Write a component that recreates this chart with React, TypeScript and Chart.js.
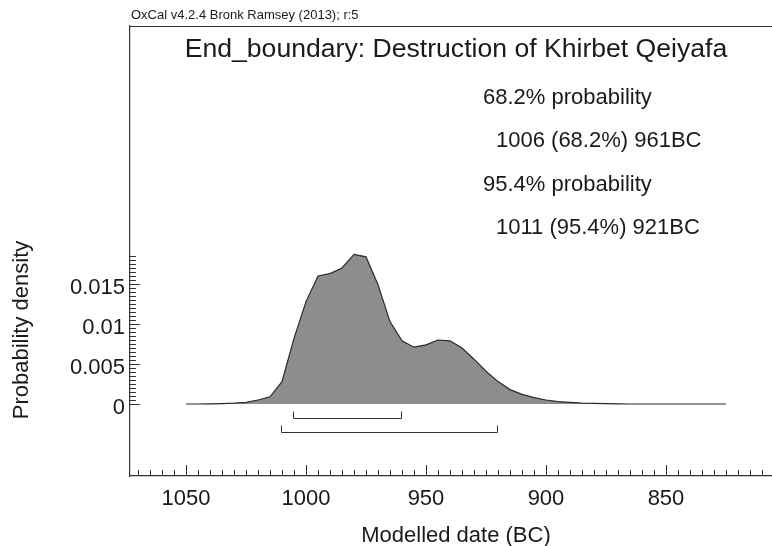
import React, { useEffect, useRef } from "react";
import { Chart, registerables } from "chart.js";

Chart.register(...registerables);

// ---- data ----
const years = [1050, 1045, 1040, 1035, 1030, 1025, 1020, 1015, 1010, 1005, 1000, 995, 990, 985, 980, 975, 970, 965, 960, 955, 950, 945, 940, 935, 930, 925, 920, 915, 910, 905, 900, 895, 890, 885, 880, 875, 870, 865, 860, 855, 850, 845, 840, 835, 830, 825];
const density = [0, 0, 0.00002, 0.00005, 0.0001, 0.0002, 0.0005, 0.0009, 0.0028, 0.0082, 0.0128, 0.016, 0.0163, 0.017, 0.0187, 0.0184, 0.0149, 0.0103, 0.0079, 0.0071, 0.0074, 0.008, 0.0079, 0.007, 0.0056, 0.0041, 0.0028, 0.0018, 0.0012, 0.0008, 0.0005, 0.0003, 0.0002, 0.0001, 0.00007, 0.00004, 0.00002, 0, 0, 0, 0, 0, 0, 0, 0, 0];

const rangeLabels = ["68.2% probability", "95.4% probability"];
const rangePercents = ["68.2%", "95.4%"];
const rangeFrom = [1006, 1011];
const rangeTo = [961, 921];

const xMajorTicks = [1050, 1000, 950, 900, 850];
const xMinorFirst = 1070;
const xMinorLast = 810;
const xMinorStep = 5;

const yMajorTicks = [0, 0.005, 0.01, 0.015];
const yTickLabels = ["0", "0.005", "0.01", "0.015"];
const yMinorTop = 0.0185;
const yMinorStep = 0.0005;

const headerText = "OxCal v4.2.4 Bronk Ramsey (2013); r:5";
const titleText = "End_boundary: Destruction of Khirbet Qeiyafa";
const xTitle = "Modelled date (BC)";
const yTitle = "Probability density";

// ---- styles ----
const FONT = '"Liberation Sans", Arial, sans-serif';
const TEXT = "#1a1a1a";
const AXIS = "#333333";
const FILL = "#8e8c8d";

const decorPlugin = {
  id: "decor",
  afterDraw(chart: any) {
    const { ctx, chartArea: ca } = chart;
    const x = chart.scales.x;
    const y = chart.scales.y;
    ctx.save();
    ctx.strokeStyle = AXIS;
    ctx.lineWidth = 1.2;
    // top frame line
    ctx.beginPath();
    ctx.moveTo(ca.left, Math.round(ca.top) + 0.5);
    ctx.lineTo(ca.right, Math.round(ca.top) + 0.5);
    ctx.stroke();
    // x ticks (inward)
    ctx.lineWidth = 1;
    for (const t of x.ticks) {
      const px = Math.round(x.getPixelForValue(t.value)) + 0.5;
      const len = xMajorTicks.includes(t.value) ? 11 : 6;
      ctx.beginPath();
      ctx.moveTo(px, ca.bottom);
      ctx.lineTo(px, ca.bottom - len);
      ctx.stroke();
    }
    // y ticks (inward)
    for (let i = 0; i < y.ticks.length; i++) {
      const t = y.ticks[i];
      const py = Math.round(y.getPixelForValue(t.value)) + 0.5;
      const len = i % 10 === 0 ? 10 : 6;
      ctx.beginPath();
      ctx.moveTo(ca.left, py);
      ctx.lineTo(ca.left + len, py);
      ctx.stroke();
    }
    // range brackets
    const y0 = y.getPixelForValue(0);
    const bracketDrop = [14, 28];
    const bracketLeg = [7, 7];
    for (let i = 0; i < rangeFrom.length; i++) {
      const xa = Math.round(x.getPixelForValue(rangeFrom[i]) + 1.7) + 0.5;
      const xb = Math.round(x.getPixelForValue(rangeTo[i]) + 1.7) + 0.5;
      const yb = Math.round(y0 + bracketDrop[i]) + 0.5;
      ctx.beginPath();
      ctx.moveTo(xa, yb - bracketLeg[i]);
      ctx.lineTo(xa, yb);
      ctx.lineTo(xb, yb);
      ctx.lineTo(xb, yb - bracketLeg[i]);
      ctx.stroke();
    }
    // texts
    ctx.fillStyle = TEXT;
    ctx.textBaseline = "alphabetic";
    ctx.textAlign = "left";
    ctx.font = `13px ${FONT}`;
    ctx.fillText(headerText, 131, 19);

    const cx = (x.getPixelForValue(years[0]) + x.getPixelForValue(years[years.length - 1])) / 2;
    ctx.textAlign = "center";
    ctx.font = `26.6px ${FONT}`;
    ctx.fillText(titleText, cx, 57);

    ctx.font = `22px ${FONT}`;
    ctx.textAlign = "left";
    const baseY = [104, 191];
    for (let i = 0; i < rangeLabels.length; i++) {
      ctx.fillText(rangeLabels[i], 483, baseY[i]);
      ctx.fillText(`${rangeFrom[i]} (${rangePercents[i]}) ${rangeTo[i]}BC`, 496, baseY[i] + 43);
    }

    ctx.textAlign = "center";
    ctx.fillText(xTitle, cx, 542);

    const cy = (y.getPixelForValue(0) + y.getPixelForValue(yMinorTop)) / 2;
    ctx.translate(28, cy);
    ctx.rotate(-Math.PI / 2);
    ctx.fillText(yTitle, 0, 0);
    ctx.restore();
  },
};

export default function App() {
  const ref = useRef<HTMLCanvasElement | null>(null);
  useEffect(() => {
    if (!ref.current) return;
    const chart = new Chart(ref.current, {
      type: "line",
      data: {
        datasets: [
          {
            data: years.map((yr, i) => ({ x: yr, y: density[i] })),
            borderColor: "#2a2a2a",
            borderWidth: 1.2,
            backgroundColor: FILL,
            fill: "origin",
            pointRadius: 0,
            tension: 0,
          },
        ],
      },
      options: {
        animation: false,
        responsive: false,
        devicePixelRatio: 1,
        layout: { padding: { top: 26, left: 0, right: 0, bottom: 0 } },
        plugins: { legend: { display: false }, tooltip: { enabled: false }, title: { display: false } },
        scales: {
          x: {
            type: "linear",
            reverse: true,
            min: 805.83,
            max: 1073.33,
            afterBuildTicks: (s: any) => {
              const t: any[] = [];
              for (let v = xMinorFirst; v >= xMinorLast; v -= xMinorStep) t.push({ value: v });
              s.ticks = t;
            },
            afterFit: (s: any) => {
              s.height = 70;
            },
            grid: { display: true, drawOnChartArea: false, drawTicks: false },
            border: { display: true, color: AXIS, width: 1.2 },
            ticks: {
              autoSkip: false,
              maxRotation: 0,
              minRotation: 0,
              padding: 10,
              color: TEXT,
              font: { family: FONT, size: 22 },
              callback: (v: any) => (xMajorTicks.includes(v) ? String(v) : ""),
            },
          },
          y: {
            type: "linear",
            min: -0.009,
            max: 0.04725,
            afterBuildTicks: (s: any) => {
              const t: any[] = [];
              const n = Math.round(yMinorTop / yMinorStep);
              for (let i = 0; i <= n; i++) t.push({ value: i * yMinorStep });
              s.ticks = t;
            },
            afterFit: (s: any) => {
              s.width = 130;
            },
            grid: { display: true, drawOnChartArea: false, drawTicks: false },
            border: { display: true, color: AXIS, width: 1.2 },
            ticks: {
              autoSkip: false,
              padding: 5,
              labelOffset: 3.5,
              color: TEXT,
              font: { family: FONT, size: 22 },
              callback: (_v: any, i: number) => {
                if (i % 10 !== 0) return "";
                const k = i / 10;
                return k < yMajorTicks.length ? yTickLabels[k] : "";
              },
            },
          },
        },
      },
      plugins: [decorPlugin],
    } as any);
    return () => chart.destroy();
  }, []);
  return (
    <div style={{ position: "fixed", left: 0, top: 0, width: 772, height: 546, background: "#fff" }}>
      <canvas ref={ref} width={772} height={546} style={{ width: 772, height: 546, display: "block" }} />
    </div>
  );
}
